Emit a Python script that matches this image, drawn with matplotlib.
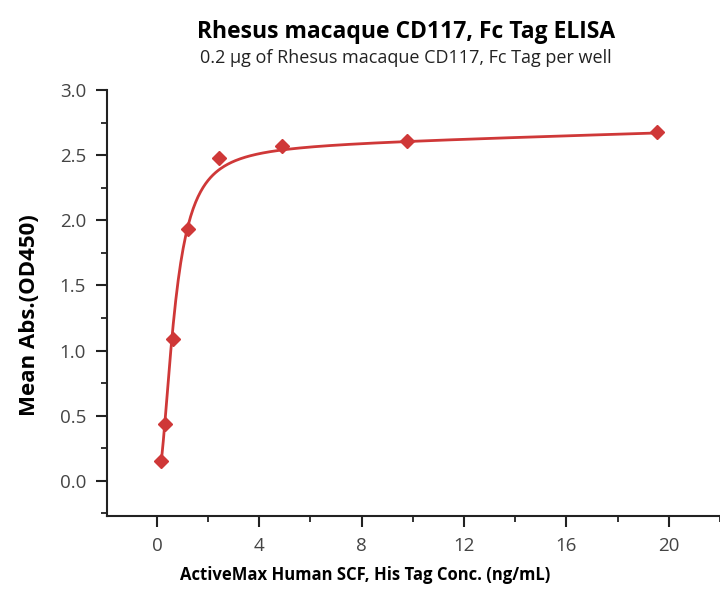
import numpy as np
import matplotlib.pyplot as plt
from matplotlib.ticker import MultipleLocator

# --- data ---
conc = [0.153, 0.305, 0.61, 1.22, 2.44, 4.88, 9.77, 19.53]
od450 = [0.15, 0.44, 1.09, 1.93, 2.48, 2.57, 2.61, 2.68]

# fitted curve (Hill binding + linear non-specific term), params
fit_bmax = 2.56
fit_kd = 0.68
fit_hill = 2.0
fit_ns = 0.0058

title = "Rhesus macaque CD117, Fc Tag ELISA"
subtitle = "0.2 \u03bcg of Rhesus macaque CD117, Fc Tag per well"
xlabel = "ActiveMax Human SCF, His Tag Conc. (ng/mL)"
ylabel = "Mean Abs.(OD450)"

red = "#cf3838"

xs = np.linspace(min(conc), max(conc), 400)
us = (xs / fit_kd) ** fit_hill
ys = fit_bmax * us / (1 + us) + fit_ns * xs

plt.rcParams["font.family"] = ["Open Sans", "DejaVu Sans"]

fig = plt.figure(figsize=(7.2, 5.91), dpi=100)
ax = fig.add_axes([0.1486, 0.1269, 0.8514, 0.7208])

ax.plot(xs, ys, color=red, lw=2)
ax.plot(conc, od450, linestyle="none", marker="D", color=red, markersize=7)

ax.set_xlim(-1.95, 22)
ax.set_ylim(-0.27, 3.0)
ax.xaxis.set_major_locator(MultipleLocator(4))
ax.xaxis.set_minor_locator(MultipleLocator(2))
ax.yaxis.set_major_locator(MultipleLocator(0.5))
ax.yaxis.set_minor_locator(MultipleLocator(0.25))
ax.yaxis.set_major_formatter(plt.FormatStrFormatter("%.1f"))

for s in ["top", "right"]:
    ax.spines[s].set_visible(False)
for s in ["left", "bottom"]:
    ax.spines[s].set_linewidth(1.5)
    ax.spines[s].set_color("#222222")

ax.tick_params(which="major", direction="out", length=8, width=1.5,
               color="#222222", labelsize=13.5, labelcolor="#444444", pad=7)
ax.tick_params(which="minor", direction="out", length=4.5, width=1.3, color="#222222")

ax.set_xlabel(xlabel, fontsize=12, fontweight="bold")
ax.xaxis.label.set_va("center")
ax.xaxis.set_label_coords(365 / 720, 1 - 575 / 591, transform=fig.transFigure)
ax.set_ylabel(ylabel, fontsize=16, fontweight="bold")
ax.yaxis.label.set_va("center")
ax.yaxis.set_label_coords(30 / 720, 1 - 315 / 591, transform=fig.transFigure)

fig.text(0.564, 0.946, title, ha="center", va="center", fontsize=16.5, fontweight="bold")
fig.text(0.563, 0.902, subtitle, ha="center", va="center", fontsize=13, color="#222222")

fig.savefig("out.png", dpi=100)
